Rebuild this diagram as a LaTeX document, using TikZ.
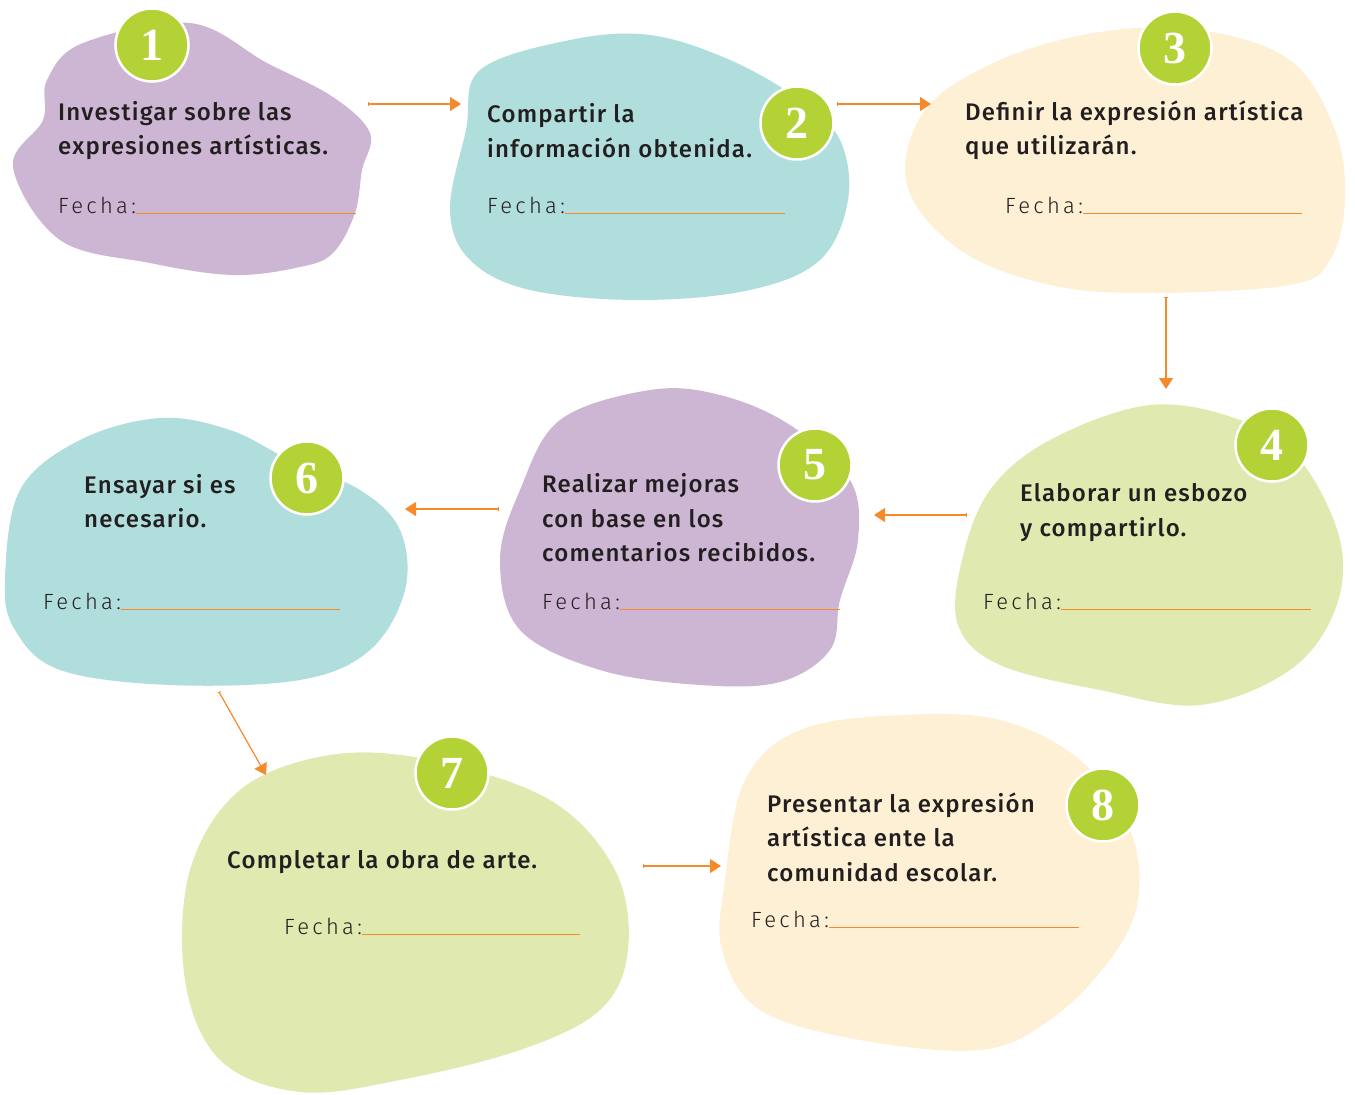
\documentclass[tikz,border=0pt]{standalone}
\usepackage{fontspec}
\setmainfont{Fira Sans Medium}[LetterSpace=5]
\newfontfamily\numfont{Liberation Serif}
\newfontfamily\fechafont[LetterSpace=15]{Fira Sans Light}
\usetikzlibrary{arrows.meta,calc}
\definecolor{cpurple}{HTML}{CDB6D4}
\definecolor{cteal}{HTML}{B0DEDD}
\definecolor{ccream}{HTML}{FEF0D4}
\definecolor{cgreen}{HTML}{DFE9B0}
\definecolor{cnum}{HTML}{B3D235}
\definecolor{corange}{HTML}{F58A2B}
\definecolor{ctext}{HTML}{231F20}
\tikzset{
  blob/.style={draw=none,fill=#1},
  numcirc/.style={circle,fill=cnum,draw=white,line width=2.5pt,minimum size=73pt,inner sep=0pt,
    text=white,font=\numfont\bfseries\fontsize{46}{46}\selectfont},
  stepline/.style={anchor=west,align=left,inner sep=0pt,text=ctext,font=\fontsize{24}{34.5}\selectfont},
  fechatxt/.style={anchor=base west,inner sep=0pt,text=ctext,font=\fechafont\fontsize{22}{26}\selectfont},
  fechaline/.style={draw=corange,line width=0.8pt},
  flow/.style={draw=corange,line width=1.2pt,{Bar[width=4pt,line width=0.8pt]}-{Triangle[length=11pt,width=14pt]}},
}
\begin{document}
\begin{tikzpicture}[x=1pt,y=-1pt]
\useasboundingbox (0,0) rectangle (1355,1095);
% blobs
\fill[blob=cpurple] plot[smooth cycle,tension=0.6] coordinates {(83,43) (190,23) (267,63) (333,97) (370,133) (362,170) (355,213) (333,253) (300,267) (233,275) (150,263) (60,240) (13,167) (43,120) (47,80)};
\fill[blob=cteal] plot[smooth cycle,tension=0.6] coordinates {(480,70) (570,40) (650,35) (730,60) (800,100) (840,140) (848,200) (820,260) (750,290) (640,300) (530,290) (470,260) (450,210) (466,130)};
\fill[blob=ccream] plot[smooth cycle,tension=0.6] coordinates {(1000,60) (1100,32) (1200,30) (1290,60) (1335,130) (1345,200) (1330,260) (1290,285) (1150,293) (1050,285) (960,250) (907,185) (925,110)};
\fill[blob=cgreen] plot[smooth cycle,tension=0.6] coordinates {(1150,405) (1240,420) (1300,460) (1340,540) (1335,610) (1290,670) (1200,705) (1100,690) (1000,665) (958,625) (962,560) (990,490) (1050,440)};
\fill[blob=cpurple] plot[smooth cycle,tension=0.6] coordinates {(650,390) (720,395) (790,425) (850,480) (858,540) (840,600) (830,650) (780,682) (700,685) (600,670) (520,630) (500,560) (520,490) (560,420)};
\fill[blob=cteal] plot[smooth cycle,tension=0.6] coordinates {(160,418) (230,430) (290,460) (360,490) (400,530) (405,590) (370,650) (300,680) (170,685) (60,670) (15,630) (5,580) (20,490) (80,440)};
\fill[blob=cgreen] plot[smooth cycle,tension=0.6] coordinates {(330,755) (430,760) (550,800) (615,870) (628,950) (600,1010) (520,1050) (400,1080) (300,1092) (220,1060) (185,980) (190,870) (240,790)};
\fill[blob=ccream] plot[smooth cycle,tension=0.6] coordinates {(800,730) (900,715) (1000,720) (1080,760) (1130,830) (1138,900) (1110,960) (1050,1020) (980,1050) (860,1040) (760,1010) (722,950) (725,880) (745,780)};
% number circles
\node[numcirc] (n1) at (152,45) {1};
\node[numcirc] (n2) at (797,123) {2};
\node[numcirc] (n3) at (1175,48) {3};
\node[numcirc] (n4) at (1272,445) {4};
\node[numcirc] (n5) at (815,465) {5};
\node[numcirc] (n6) at (307,478) {6};
\node[numcirc] (n7) at (452,773) {7};
\node[numcirc] (n8) at (1103,805) {8};
% texts
\node[stepline] (t1) at (58,130.5) {Investigar sobre las\\expresiones artísticas.};
\node[stepline] (t2) at (487,130.5) {Compartir la\\información obtenida.};
\node[stepline] (t3) at (965,130.5) {Definir la expresión artística\\que utilizarán.};
\node[stepline] (t4) at (1020,512.5) {Elaborar un esbozo\\y compartirlo.};
\node[stepline] (t5) at (542,518) {Realizar mejoras\\con base en los\\comentarios recibidos.};
\node[stepline] (t6) at (84,501) {Ensayar si es\\necesario.};
\node[stepline] (t7) at (227,862) {Completar la obra de arte.};
\node[stepline] (t8) at (767,837) {Presentar la expresión\\artística ente la\\comunidad escolar.};
% fecha
\node[fechatxt] (f1) at (58,213) {Fecha:};
\draw[fechaline] (f1.base east) -- (356,0 |- f1.base east);
\node[fechatxt] (f2) at (487,213) {Fecha:};
\draw[fechaline] (f2.base east) -- (785,0 |- f2.base east);
\node[fechatxt] (f3) at (1005,213) {Fecha:};
\draw[fechaline] (f3.base east) -- (1302,0 |- f3.base east);
\node[fechatxt] (f4) at (983,609) {Fecha:};
\draw[fechaline] (f4.base east) -- (1311,0 |- f4.base east);
\node[fechatxt] (f5) at (542,609) {Fecha:};
\draw[fechaline] (f5.base east) -- (840,0 |- f5.base east);
\node[fechatxt] (f6) at (43,609) {Fecha:};
\draw[fechaline] (f6.base east) -- (340,0 |- f6.base east);
\node[fechatxt] (f7) at (284,934) {Fecha:};
\draw[fechaline] (f7.base east) -- (580,0 |- f7.base east);
\node[fechatxt] (f8) at (751,927) {Fecha:};
\draw[fechaline] (f8.base east) -- (1079,0 |- f8.base east);
% arrows
\coordinate (a1s) at (368,104); \coordinate (a1e) at (461,104);
\coordinate (a2s) at (837,104); \coordinate (a2e) at (931,104);
\coordinate (a3s) at (1166,297); \coordinate (a3e) at (1166,389);
\coordinate (a4s) at (967,515); \coordinate (a4e) at (874,515);
\coordinate (a5s) at (499,509); \coordinate (a5e) at (405,509);
\coordinate (a6s) at (219,692); \coordinate (a6e) at (266,775);
\coordinate (a7s) at (643,866); \coordinate (a7e) at (721,866);
\draw[flow] (a1s) -- (a1e);
\draw[flow] (a2s) -- (a2e);
\draw[flow] (a3s) -- (a3e);
\draw[flow] (a4s) -- (a4e);
\draw[flow] (a5s) -- (a5e);
\draw[flow] (a6s) -- (a6e);
\draw[flow] (a7s) -- (a7e);
\end{tikzpicture}
\end{document}
